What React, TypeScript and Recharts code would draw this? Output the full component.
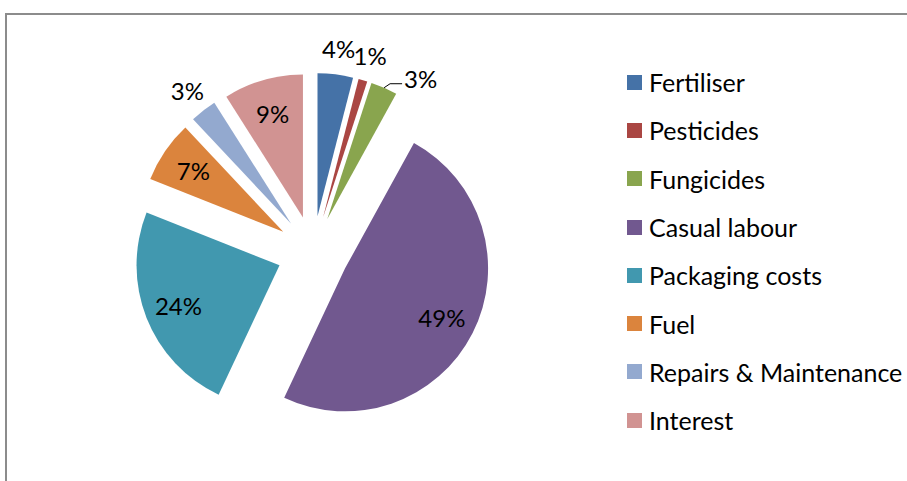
import React from 'react';
import { PieChart, Pie, Cell, Sector, Legend } from 'recharts';

const categories = ['Fertiliser', 'Pesticides', 'Fungicides', 'Casual labour', 'Packaging costs', 'Fuel', 'Repairs & Maintenance', 'Interest'];
const shares = [4, 1, 3, 49, 24, 7, 3, 9];
const colors = ['#4572A7', '#AA4643', '#89A54E', '#71588F', '#4198AF', '#DB843D', '#93A9CF', '#D19392'];

const data = categories.map((name, i) => ({ name, value: shares[i] }));

const RAD = Math.PI / 180;
const EXPLODE = 36;
const FONT = 'Lato, "Liberation Sans", sans-serif';

function explodedSlice(props: any) {
  const { cx, cy, midAngle, innerRadius, outerRadius, startAngle, endAngle, fill } = props;
  const dx = EXPLODE * Math.cos(-midAngle * RAD);
  const dy = EXPLODE * Math.sin(-midAngle * RAD);
  return (
    <Sector
      cx={cx + dx}
      cy={cy + dy}
      innerRadius={innerRadius}
      outerRadius={outerRadius}
      startAngle={startAngle}
      endAngle={endAngle}
      fill={fill}
      stroke="none"
    />
  );
}

function sliceLabel(props: any) {
  const { cx, cy, midAngle, outerRadius, value, index } = props;
  const cos = Math.cos(-midAngle * RAD);
  const sin = Math.sin(-midAngle * RAD);
  const inside = value >= 5;
  const txt = `${value}%`;

  // fungicides label sits beside its neighbour, pulled out with a leader line
  if (index === 2) {
    const r0 = EXPLODE + outerRadius;
    const x0 = cx + r0 * cos;
    const y0 = cy + r0 * sin;
    return (
      <g>
        <polyline points={`${x0},${y0} ${x0 + 6},${y0 - 4} ${x0 + 18},${y0 - 4}`} fill="none" stroke="#000" strokeWidth={1} />
        <text x={x0 + 20} y={y0 - 9} textAnchor="start" dominantBaseline="central" fill="#000" fontSize={24} fontFamily={FONT}>{txt}</text>
      </g>
    );
  }

  const dist = inside ? EXPLODE + outerRadius * 0.76 : EXPLODE + outerRadius + 26;
  return (
    <text x={cx + dist * cos} y={cy + dist * sin} textAnchor="middle" dominantBaseline="central" fill="#000" fontSize={24} fontFamily={FONT}>
      {txt}
    </text>
  );
}

function LegendList(props: any) {
  const { payload } = props;
  return (
    <div style={{ fontFamily: FONT, fontSize: 25, color: '#000' }}>
      {(payload || []).map((p: any, i: number) => (
        <div key={i} style={{ display: 'flex', alignItems: 'center', height: 48.3 }}>
          <span style={{ display: 'inline-block', width: 15, height: 15, background: colors[i], marginRight: 7 }} />
          <span>{categories[i]}</span>
        </div>
      ))}
    </div>
  );
}

export default function App() {
  return (
    <div style={{ position: 'absolute', left: 0, top: 0, width: 907, height: 481, background: '#fff', overflow: 'hidden' }}>
      <div style={{ position: 'absolute', left: 5, top: 13, width: 920, height: 500, borderTop: '2px solid #8c8c8c', borderLeft: '2px solid #8c8c8c' }} />
      <PieChart width={907} height={481} style={{ position: 'absolute', left: 0, top: 0 }}>
        <Pie
          data={data}
          dataKey="value"
          nameKey="name"
          cx={308}
          cy={247}
          outerRadius={143}
          startAngle={90}
          endAngle={-270}
          shape={explodedSlice}
          label={sliceLabel}
          labelLine={false}
          isAnimationActive={false}
        >
          {data.map((d, i) => (
            <Cell key={d.name} fill={colors[i]} />
          ))}
        </Pie>
        <Legend
          layout="vertical"
          content={<LegendList />}
          wrapperStyle={{ left: 627, top: 58, width: 280 }}
        />
      </PieChart>
    </div>
  );
}
